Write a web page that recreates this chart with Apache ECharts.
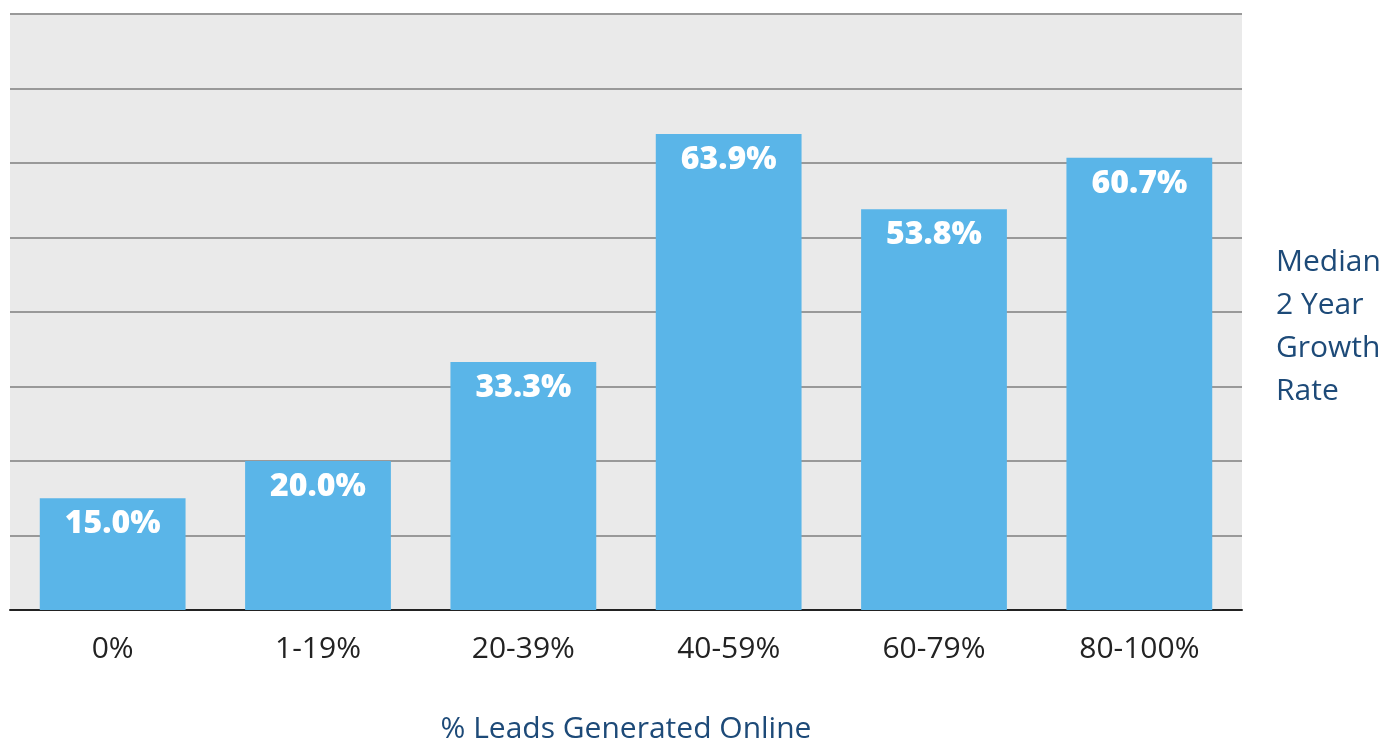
<!DOCTYPE html>
<html>
<head>
<meta charset="utf-8">
<script src="https://cdn.jsdelivr.net/npm/echarts@6/dist/echarts.min.js"></script>
<style>html,body{margin:0;padding:0;background:#fff}#c{width:1391px;height:744px}</style>
</head>
<body>
<div id="c"></div>
<script>
const categories = ['0%', '1-19%', '20-39%', '40-59%', '60-79%', '80-100%'];
const growthValues = [15.0, 20.0, 33.3, 63.9, 53.8, 60.7];
const xTitle = '% Leads Generated Online';
const yTitle = 'Median\n2 Year\nGrowth\nRate';

const chart = echarts.init(document.getElementById('c'));
chart.setOption({
  animation: false,
  grid: {left: 10, right: 149, top: 14, bottom: 134, show: true, backgroundColor: '#eaeaea', borderWidth: 0, outerBoundsMode: 'none', containLabel: false},
  xAxis: {
    type: 'category', data: categories,
    axisLine: {lineStyle: {color: '#222', width: 2}},
    axisTick: {show: false},
    axisLabel: {color: '#222', fontSize: 30, fontFamily: 'Open Sans', margin: 24},
    name: xTitle, nameLocation: 'middle', nameGap: 104,
    nameTextStyle: {color: '#1d4a78', fontSize: 30, fontFamily: 'Open Sans'}
  },
  yAxis: {
    type: 'value', min: 0, max: 80, interval: 10, position: 'right',
    axisLine: {show: false}, axisTick: {show: false}, axisLabel: {show: false},
    splitLine: {lineStyle: {color: '#999', width: 2}}
  },
  graphic: [{
    type: 'text', x: 1276, y: 327,
    style: {text: yTitle, fill: '#1d4a78', fontSize: 30, fontFamily: 'Open Sans', lineHeight: 43, verticalAlign: 'middle', align: 'left'}
  }],
  series: [{
    type: 'bar', data: growthValues, barWidth: '71%',
    itemStyle: {color: '#5ab5e8'},
    label: {show: true, position: 'insideTop', distance: 10, color: '#fff', fontSize: 32, fontWeight: 800, fontFamily: 'Open Sans',
      formatter: p => p.value.toFixed(1) + '%'}
  }]
});
</script>
</body>
</html>
